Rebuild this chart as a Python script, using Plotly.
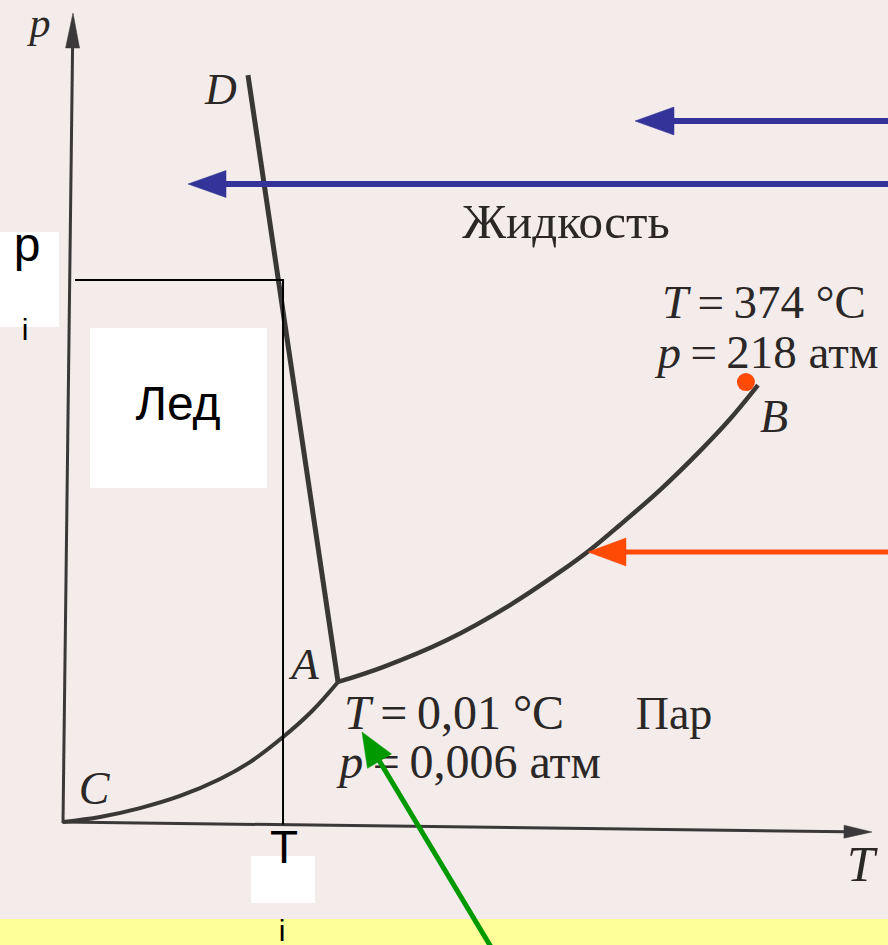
import math
import plotly.graph_objects as go

# ---- canvas -----------------------------------------------------------
W, H = 888, 945
ORIGIN_PX = (63, 822)          # point C: where the T and p axes meet
PX_PER_T = 1.826               # schematic scale of the T axis
PX_PER_P = 2.018               # schematic scale of the p axis

# ---- phase-diagram data (schematic units: T in °C-like, p in atm-like) ----
T_CRIT, P_CRIT = 374, 218      # critical point
T_TRIPLE_LABEL, P_TRIPLE_LABEL = "0,01", "0,006"

# sublimation curve C -> A
SUBLIM_T = [0, 20.3, 42.2, 64.1, 86.0, 102.4, 120.5, 136.4, 150.6]
SUBLIM_P = [0, 2.5, 6.9, 12.9, 21.3, 29.7, 42.1, 55.0, 69.4]

# vaporisation curve A -> B
VAPOR_T = [150.6, 175.2, 210.3, 244.8, 272.1, 288.6, 305.0, 326.9, 348.8, 365.3, 380.6]
VAPOR_P = [69.4, 76.8, 90.2, 107.5, 123.9, 134.8, 147.2, 164.5, 183.8, 199.7, 216.5]

# melting curve A -> D
MELT_T = [150.6, 101.3]
MELT_P = [69.4, 370.1]

# isotherm / isobar through the point (T_i, p_i)
T_I, P_I = 120.5, 268.6
ISOBAR_T0 = 6.6
ISOTHERM_P0 = -1.2

# ---- colours ------------------------------------------------------------
PAPER = "#f3ecea"
INK = "#2b2727"
CURVE = "#3a3737"
AXIS = "#3a3838"
BLUE = "#333399"
ORANGE = "#ff4a06"
GREEN = "#009a00"
BAND = "#ffff99"

SERIF = "Liberation Serif"
SANS = "Liberation Sans"


def dx(px):
    return (px - ORIGIN_PX[0]) / PX_PER_T


def dy(py):
    return (ORIGIN_PX[1] - py) / PX_PER_P


def paper(px, py):
    return px / W, 1 - py / H


fig = go.Figure()

# ---- phase boundaries ---------------------------------------------------
fig.add_trace(go.Scatter(x=SUBLIM_T, y=SUBLIM_P, mode="lines",
                         line=dict(color=CURVE, width=4, shape="spline", smoothing=1.0),
                         hoverinfo="skip"))
fig.add_trace(go.Scatter(x=VAPOR_T, y=VAPOR_P, mode="lines",
                         line=dict(color=CURVE, width=4.5, shape="spline", smoothing=1.0),
                         hoverinfo="skip"))
fig.add_trace(go.Scatter(x=MELT_T, y=MELT_P, mode="lines",
                         line=dict(color=CURVE, width=5),
                         hoverinfo="skip"))

# isobar p_i and isotherm T_i
fig.add_trace(go.Scatter(x=[ISOBAR_T0, T_I, T_I], y=[P_I, P_I, ISOTHERM_P0], mode="lines",
                         line=dict(color="#000000", width=2), hoverinfo="skip"))

# critical point
fig.add_trace(go.Scatter(x=[T_CRIT], y=[P_CRIT], mode="markers",
                         marker=dict(color=ORANGE, size=18, line=dict(width=0)),
                         hoverinfo="skip"))

# ---- text labels ---------------------------------------------------------
labels = [
    ("<i>p</i>", 40, 26, SERIF, 42),
    ("<i>D</i>", 221, 93, SERIF, 44),
    ("Жидкость", 566, 226, SERIF, 49),
    (f"<i>T</i>\u2009=\u2009{T_CRIT} °C", 764, 306, SERIF, 47),
    (f"<i>p</i>\u2009=\u2009{P_CRIT} атм", 768, 356, SERIF, 47),
    ("<i>B</i>", 774, 420, SERIF, 46),
    ("<i>A</i>", 305, 668, SERIF, 45),
    (f"<i>T</i>\u2009=\u2009{T_TRIPLE_LABEL} °C", 454, 717, SERIF, 48),
    (f"<i>p</i>\u2009=\u2009{P_TRIPLE_LABEL} атм", 470, 766, SERIF, 48),
    ("Пар", 674, 717, SERIF, 46),
    ("<i>C</i>", 94, 792, SERIF, 46),
    ("<i>T</i>", 861, 868, SERIF, 50),
    ("p", 27, 249, SANS, 48),
    ("i", 25, 332, SANS, 30),
    ("Лед", 178, 408, SANS, 48),
    ("T", 284, 851, SANS, 46),
    ("i", 282, 933, SANS, 30),
]
for text, px, py, fam, size in labels:
    color = INK if fam == SERIF else "#000000"
    fig.add_trace(go.Scatter(x=[dx(px)], y=[dy(py)], mode="text", text=[text],
                             textposition="middle center",
                             textfont=dict(family=fam, size=size, color=color),
                             hoverinfo="skip", cliponaxis=False))

shapes = []

# bottom band
x0, y0 = paper(0, 919)
x1, y1 = paper(W, H + 2)
shapes.append(dict(type="rect", xref="paper", yref="paper", x0=x0, y0=y1, x1=x1, y1=y0,
                   fillcolor=BAND, line=dict(width=0), layer="below"))

# white label boxes
for bx0, by0, bx1, by1 in [(0, 232, 59, 327), (90, 328, 267, 488), (251, 856, 315, 903)]:
    a0, b0 = paper(bx0, by0)
    a1, b1 = paper(bx1, by1)
    shapes.append(dict(type="rect", xref="paper", yref="paper", x0=a0, y0=b1, x1=a1, y1=b0,
                       fillcolor="#ffffff", line=dict(width=0), layer="below"))


def arrow(tail, tip, head_len, head_w, width, color, layer="above"):
    ux, uy = tip[0] - tail[0], tip[1] - tail[1]
    n = math.hypot(ux, uy)
    ux, uy = ux / n, uy / n
    bx, by = tip[0] - ux * head_len, tip[1] - uy * head_len
    nx, ny = -uy, ux
    sx0, sy0 = paper(*tail)
    sx1, sy1 = paper(bx + ux * 2, by + uy * 2)
    shapes.append(dict(type="line", xref="paper", yref="paper", x0=sx0, y0=sy0, x1=sx1, y1=sy1,
                       line=dict(color=color, width=width), layer=layer))
    pts = [tip, (bx + nx * head_w / 2, by + ny * head_w / 2), (bx - nx * head_w / 2, by - ny * head_w / 2)]
    pp = [paper(*p) for p in pts]
    path = "M{:.5f},{:.5f} L{:.5f},{:.5f} L{:.5f},{:.5f} Z".format(*pp[0], *pp[1], *pp[2])
    shapes.append(dict(type="path", xref="paper", yref="paper", path=path,
                       fillcolor=color, line=dict(color=color, width=0.5), layer=layer))


# coordinate axes
arrow((63, 823), (73, 13), 35, 14, 3, AXIS, layer="below")
arrow((62, 822), (872, 832), 28, 13, 3, AXIS, layer="below")

# pointer arrows
arrow((H, 121), (635, 121), 39, 28, 6, BLUE)
arrow((H, 184), (188, 184), 38, 27, 6, BLUE)
arrow((H, 552), (588, 552), 38, 28, 5, ORANGE)
arrow((500, 962), (362, 732), 34, 28, 5, GREEN)

fig.update_layout(
    width=W, height=H, autosize=False,
    margin=dict(l=0, r=0, t=0, b=0, pad=0),
    paper_bgcolor=PAPER, plot_bgcolor="rgba(0,0,0,0)",
    showlegend=False,
    shapes=shapes,
    xaxis=dict(range=[dx(0), dx(W)], visible=False, fixedrange=True),
    yaxis=dict(range=[dy(H), dy(0)], visible=False, fixedrange=True),
)

fig.write_html("out.html")
